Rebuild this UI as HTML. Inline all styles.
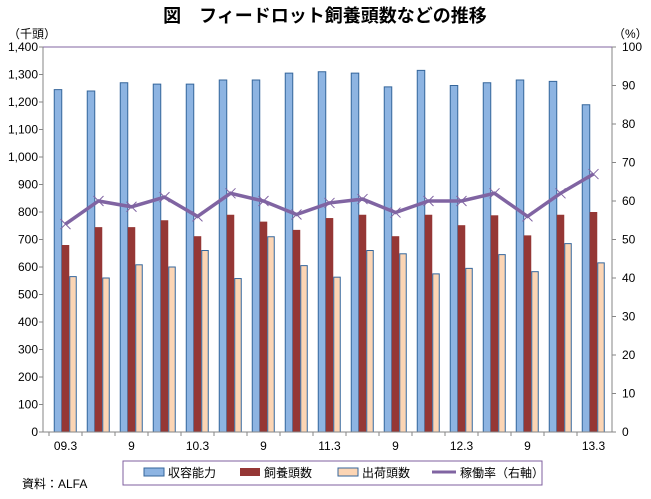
<!DOCTYPE html>
<html><head><meta charset="utf-8"><style>
body{margin:0;background:#fff;font-family:"Liberation Sans","Noto Sans CJK JP",sans-serif;}
svg text{font-family:"Liberation Sans","Noto Sans CJK JP",sans-serif;}
</style></head><body>
<svg id="c" width="651" height="494" xmlns="http://www.w3.org/2000/svg">
<text x="325" y="22" text-anchor="middle" font-size="18" font-weight="bold" font-family="Liberation Serif,'Noto Serif CJK SC',serif">図　フィードロット飼養頭数などの推移</text>
<text x="8" y="38" font-size="12">（千頭）</text>
<text x="613" y="38" font-size="12">（%）</text>
<g id="grid"></g><g id="bars"></g><g id="line"></g><g id="axes"></g>
<text x="22" y="488" font-size="12">資料：ALFA</text>
<g>
<rect x="123" y="461" width="419" height="24" fill="#fff" stroke="#7f5f9f" stroke-width="1"/>
<rect x="144" y="468" width="20" height="8" fill="#8db4e2" stroke="#35669b"/>
<text x="168" y="477" font-size="12">収容能力</text>
<rect x="240" y="468" width="20" height="8" fill="#953735"/>
<text x="264" y="477" font-size="12">飼養頭数</text>
<rect x="338" y="468" width="20" height="8" fill="#fcd5b4" stroke="#35669b"/>
<text x="362" y="477" font-size="12">出荷頭数</text>
<line x1="432" y1="472" x2="456" y2="472" stroke="#8064a2" stroke-width="3"/>
<text x="460" y="477" font-size="12">稼働率（右軸）</text>
</g>
</svg>
<script>
const categories=["09.3","","9","","10.3","","9","","11.3","","9","","12.3","","9","","13.3"];
const capacity=[1245,1240,1270,1265,1265,1280,1280,1305,1310,1305,1255,1315,1260,1270,1280,1275,1190];
const feeding=[680,745,745,770,712,790,765,735,778,790,712,790,752,788,715,790,800];
const shipped=[565,560,608,600,660,558,710,605,563,660,648,575,595,645,583,685,615];
const rate=[54,60,58.5,61,56,62,60,56.5,59.5,60.5,57,60,60,62,56,62,67];
const leftTickLabels=["0","100","200","300","400","500","600","700","800","900","1,000","1,100","1,200","1,300","1,400"];
const rightTickLabels=["0","10","20","30","40","50","60","70","80","90","100"];
const NS="http://www.w3.org/2000/svg";
const L=43,R=612,T=47,B=432;
const yL=v=>B-(v/1400)*(B-T);
const yR=v=>B-(v/100)*(B-T);
const step=33;
const xC=i=>65.5+step*i;
function mk(p,tag,a){const e=document.createElementNS(NS,tag);for(const k in a)e.setAttribute(k,a[k]);document.getElementById(p).appendChild(e);return e;}
let e=mk("axes","line",{x1:L,y1:T,x2:L,y2:B,stroke:"#868686"});


e=mk("axes","line",{x1:R,y1:T,x2:R,y2:B,stroke:"#868686"});


e=mk("axes","line",{x1:L,y1:B,x2:R,y2:B,stroke:"#868686"});


e=mk("axes","line",{x1:L,y1:T,x2:R,y2:T,stroke:"#8064a2"});


leftTickLabels.forEach((t,i)=>{const v=i*100,y=yL(v);
 const tk=mk("axes","line",{x1:L-4,y1:y,x2:L,y2:y,stroke:"#868686"});
 
 
 const tx=mk("axes","text",{x:L-5,y:y+4,"text-anchor":"end","font-size":"12"});tx.textContent=t;
 
 });
rightTickLabels.forEach((t,i)=>{const y=yR(i*10);
 const tk=mk("axes","line",{x1:R,y1:y,x2:R+4,y2:y,stroke:"#868686"});
 
 
 const tx=mk("axes","text",{x:R+10,y:y+4,"font-size":"12"});tx.textContent=t;
 
 });
categories.forEach((c,i)=>{
 const tk=mk("axes","line",{x1:xC(i)-step/2,y1:B,x2:xC(i)-step/2,y2:B+4,stroke:"#868686"});
 
 
 if(c){const tx=mk("axes","text",{x:xC(i),y:B+18,"text-anchor":"middle","font-size":"12"});tx.textContent=c;
 
 }});
const w=7.5;
categories.forEach((c,i)=>{const x0=xC(i)-w*1.5;
 let b=mk("bars","rect",{x:x0,y:yL(capacity[i]),width:w,height:B-yL(capacity[i]),fill:"#8db4e2",stroke:"#35669b","stroke-width":"1"});
 
 
 b=mk("bars","rect",{x:x0+w,y:yL(feeding[i]),width:w,height:B-yL(feeding[i]),fill:"#953735"});
 
 
 b=mk("bars","rect",{x:x0+2*w+0.5,y:yL(shipped[i]),width:w-1,height:B-yL(shipped[i]),fill:"#fcd5b4",stroke:"#35669b","stroke-width":"1"});
 
 });
const pts=rate.map((v,i)=>xC(i)+","+yR(v)).join(" ");
const pl=mk("line","polyline",{points:pts,fill:"none",stroke:"#8064a2","stroke-width":"3.5"});


rate.forEach((v,i)=>{const x=xC(i),y=yR(v),s=5;
 const m=mk("line","path",{d:`M${x-s},${y-s}L${x+s},${y+s}M${x-s},${y+s}L${x+s},${y-s}`,stroke:"#8064a2","stroke-width":"1"});
 
 });
</script>
</body></html>
